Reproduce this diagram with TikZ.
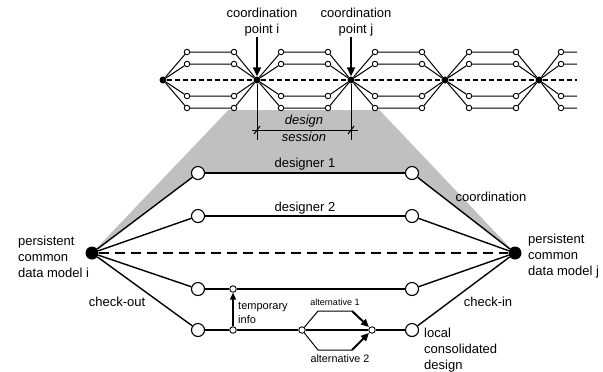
\documentclass[tikz,border=0pt]{standalone}
\usepackage{fontspec}
\setmainfont{Liberation Sans}
\usetikzlibrary{arrows.meta,backgrounds}
\definecolor{sessiongray}{RGB}{192,192,192}
\tikzset{
  bigdot/.style={circle, fill=black, inner sep=0pt, minimum size=13bp},
  bigcirc/.style={circle, draw, fill=white, line width=1.1bp, inner sep=0pt, minimum size=13bp},
  smalldot/.style={circle, fill=black, inner sep=0pt, minimum size=7bp},
  topcirc/.style={circle, draw, fill=white, line width=0.9bp, inner sep=0pt, minimum size=5.5bp},
  midcirc/.style={circle, draw, fill=white, line width=0.9bp, inner sep=0pt, minimum size=6.5bp},
  topline/.style={line width=1bp},
  mainline/.style={line width=1.4bp},
  thinline/.style={line width=1bp},
  lbl/.style={inner sep=0pt, align=center},
  lbll/.style={inner sep=0pt, align=left},
  bigarrow/.style={line width=2bp, -{Triangle[length=9bp,width=8bp]}},
  altarrow/.style={line width=2bp, -{Triangle[length=8bp,width=7bp]}, shorten >=0.5bp},
}
\begin{document}
\begin{tikzpicture}[x=1bp, y=-1bp, every node/.style={font=\fontsize{13bp}{16bp}\selectfont}]
\useasboundingbox (0,0) rectangle (603,371);

% ---------- top strip ----------
\foreach \k/\x in {0/163,1/257,2/351,3/445,4/539}{
  \node[smalldot] (T\k) at (\x,80) {};
}
\foreach \k/\x in {0/163,1/257,2/351,3/445}{
  \foreach \r/\y in {1/52,2/64,3/96,4/108}{
    \node[topcirc] (P\k\r) at (\x+24,\y) {};
    \node[topcirc] (Q\k\r) at (\x+71,\y) {};
  }
}
\foreach \r/\y in {1/52,2/64,3/96,4/108}{
  \node[topcirc] (P4\r) at (561,\y) {};
  \coordinate (E\r) at (577,\y);
}
\coordinate (Edash) at (577,80);

\foreach \k [evaluate=\k as \n using int(\k+1)] in {0,1,2,3}{
  \foreach \r in {1,2,3,4}{
    \draw[topline] (T\k) -- (P\k\r) -- (Q\k\r) -- (T\n);
  }
}
\foreach \r in {1,2,3,4}{
  \draw[topline] (T4) -- (P4\r) -- (E\r);
}
\draw[line width=2bp, dash pattern=on 5bp off 3bp] (T0) -- (T1) -- (T2) -- (T3) -- (T4) -- (Edash);

% coordination points
\node[lbl] (cpi) at (262,22) {coordination\\point i};
\node[lbl] (cpj) at (356,22) {coordination\\point j};
\coordinate (ai) at (257,37);
\coordinate (aj) at (351,37);
\draw[bigarrow] (ai) -- (T1);
\draw[bigarrow] (aj) -- (T2);

% ---------- main part ----------
\node[bigdot] (Bi) at (92,253) {};
\node[bigdot] (Bj) at (515,253) {};
\foreach \r/\y in {1/173,2/216,3/289,4/330}{
  \node[bigcirc] (L\r) at (198,\y) {};
  \node[bigcirc] (R\r) at (412,\y) {};
}
\node[midcirc] (t1) at (233,289) {};
\node[midcirc] (t2) at (233,330) {};
\node[midcirc] (a1) at (302,330) {};
\node[midcirc] (a2) at (372,330) {};
\coordinate (u1) at (318,311);
\coordinate (u2) at (352,311);
\coordinate (d1) at (318,350);
\coordinate (d2) at (352,350);

% gray session area (starts below the top strip)
\begin{scope}[on background layer]
  \clip (0,110) rectangle (603,371);
  \fill[sessiongray] (T1.center) -- (T2.center) -- (Bj.center) -- (R1.center) -- (L1.center) -- (Bi.center) -- cycle;
\end{scope}

% design session dimension
\coordinate (vi) at (257,140);
\coordinate (vj) at (351,140);
\coordinate (dl) at (252,130);
\coordinate (dr) at (358,130);
\draw[thinline] (T1) -- (vi);
\draw[thinline] (T2) -- (vj);
\draw[thinline] (dl) -- (dr);
\draw[thinline] (254,134) -- (260,126);
\draw[thinline] (348,134) -- (354,126);
\node[lbl, font=\fontsize{13bp}{17bp}\selectfont\itshape] (ds) at (304,128) {design\\session};

% connectors
\foreach \r in {1,2,3,4}{
  \draw[mainline] (Bi) -- (L\r);
  \draw[mainline] (R\r) -- (Bj);
}
\draw[mainline] (L1) -- (R1);
\draw[mainline] (L2) -- (R2);
\draw[mainline] (L3) -- (t1) -- (R3);
\draw[mainline] (L4) -- (t2) -- (a1) -- (a2) -- (R4);
\draw[line width=2bp, dash pattern=on 10bp off 6bp] (Bi) -- (Bj);
\draw[line width=1.4bp, -{Triangle[length=7bp,width=6bp]}] (t2) -- (t1);
\draw[thinline] (a1) -- (u1) -- (u2);
\draw[thinline] (a1) -- (d1) -- (d2);
\draw[altarrow] (u2) -- (a2);
\draw[altarrow] (d2) -- (a2);

% labels
\node[lbl] (dg1) at (305,164) {designer 1};
\node[lbl] (dg2) at (305,208) {designer 2};
\node[lbl] (coord) at (491,197) {coordination};
\node[lbll, anchor=west] (pi) at (18,257) {persistent\\common\\data model i};
\node[lbll, anchor=west] (pj) at (528,256) {persistent\\common\\data model j};
\node[lbl] (co) at (117,302) {check-out};
\node[lbl] (ci) at (488,302) {check-in};
\node[lbll, anchor=west] (lcd) at (424,350) {local\\consolidated\\design};
\node[lbll, anchor=west, font=\fontsize{11bp}{14bp}\selectfont] (ti) at (238,313) {temporary\\info};
\node[lbl, font=\fontsize{9bp}{11bp}\selectfont] (al1) at (335,302) {alternative 1};
\node[lbl, font=\fontsize{10.8bp}{13bp}\selectfont] (al2) at (340,359) {alternative 2};
\end{tikzpicture}
\end{document}
